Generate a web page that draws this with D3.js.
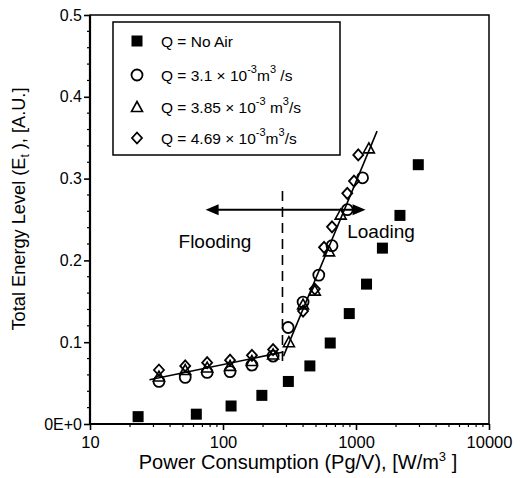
<!DOCTYPE html>
<html><head><meta charset="utf-8">
<script src="https://cdn.jsdelivr.net/npm/d3@7"></script>
<style>
body{margin:0;background:#fff;}
text{font-family:"Liberation Sans",Arial,Helvetica,sans-serif;fill:#000;}
</style></head>
<body><svg id="c" width="520" height="478"></svg>
<script>
// ---- data ----
const noAirX = [23, 63, 115, 196, 310, 450, 640, 890, 1200, 1580, 2140, 2940];
const noAirY = [0.009, 0.012, 0.022, 0.035, 0.052, 0.071, 0.099, 0.135, 0.171, 0.215, 0.255, 0.317];
const q31X = [33, 52, 76, 113, 165, 238, 309, 400, 525, 660, 860, 1120];
const q31Y = [0.052, 0.057, 0.063, 0.064, 0.072, 0.083, 0.118, 0.149, 0.182, 0.218, 0.262, 0.301];
const q385X = [33, 52, 76, 113, 165, 238, 313, 400, 490, 627, 767, 1250];
const q385Y = [0.058, 0.066, 0.069, 0.071, 0.077, 0.085, 0.100, 0.146, 0.163, 0.211, 0.256, 0.337];
const q469X = [33, 52, 76, 113, 165, 238, 400, 490, 575, 660, 860, 966, 1040];
const q469Y = [0.066, 0.071, 0.075, 0.078, 0.084, 0.091, 0.138, 0.165, 0.216, 0.241, 0.282, 0.297, 0.329];
const fit1X = [28, 285];
const fit1Y = [0.054, 0.088];
const fit2X = [285, 1440];
const fit2Y = [0.083, 0.358];
const dividerX = 280;
const dividerY = [0.077, 0.288];
const arrowX = [74, 1180];
const arrowY = 0.262;
const xTicks = [10, 100, 1000, 10000];
const yTicks = [0, 0.1, 0.2, 0.3, 0.4, 0.5];
const yTickLabels = ["0E+0", "0.1", "0.2", "0.3", "0.4", "0.5"];

const svg = d3.select("#c");
const L = 90, R = 489, T = 15, B = 424;
const x = d3.scaleLog().domain([10, 10000]).range([L, R]);
const y = d3.scaleLinear().domain([0, 0.5]).range([B, T]);

// frame
svg.append("rect").attr("x", L).attr("y", T).attr("width", R - L).attr("height", B - T)
  .attr("fill", "none").attr("stroke", "#000").attr("stroke-width", 1.5);
svg.append("line").attr("x1", L).attr("x2", L).attr("y1", T).attr("y2", B).attr("stroke", "#000").attr("stroke-width", 2.2);
svg.append("line").attr("x1", L).attr("x2", R).attr("y1", B).attr("y2", B).attr("stroke", "#000").attr("stroke-width", 2.2);

// x axis
const minorX = [];
for (let d = 10; d < 10000; d *= 10) for (let k = 2; k < 10; k++) minorX.push(d * k);
const xAx = svg.append("g").attr("transform", `translate(0,${B})`)
  .call(d3.axisBottom(x).tickValues(xTicks).tickFormat(d3.format("d")).tickSize(6).tickPadding(6));
xAx.select(".domain").remove();
xAx.selectAll("line").attr("stroke-width", 1.6);
xAx.selectAll("text").attr("font-size", 16.5);
svg.append("g").selectAll("line").data(minorX).join("line")
  .attr("x1", d => x(d)).attr("x2", d => x(d)).attr("y1", B).attr("y2", B + 3)
  .attr("stroke", "#000").attr("stroke-width", 1.2);

// y axis
const yAx = svg.append("g").attr("transform", `translate(${L},0)`)
  .call(d3.axisLeft(y).tickValues(yTicks).tickFormat((d, i) => yTickLabels[i]).tickSize(6).tickPadding(2));
yAx.select(".domain").remove();
yAx.selectAll("line").attr("stroke-width", 1.6);
yAx.selectAll("text").attr("font-size", 16);
const minorY = d3.range(0.02, 0.5, 0.02).filter(v => Math.abs(v * 10 - Math.round(v * 10)) > 1e-6);
svg.append("g").selectAll("line").data(minorY).join("line")
  .attr("x1", L - 3).attr("x2", L).attr("y1", d => y(d)).attr("y2", d => y(d))
  .attr("stroke", "#000").attr("stroke-width", 1.2);

// axis titles
const xt = svg.append("text").attr("x", 298).attr("y", 469).attr("text-anchor", "middle").attr("font-size", 20);
xt.append("tspan").text("Power Consumption (Pg/V), [W/m");
xt.append("tspan").text("3").attr("font-size", 13).attr("dy", -8);
xt.append("tspan").text(" ]").attr("dy", 8);
const yt = svg.append("text").attr("transform", "translate(25,209) rotate(-90)").attr("text-anchor", "middle")
  .attr("font-size", 18.5).attr("textLength", 243).attr("lengthAdjust", "spacingAndGlyphs");
yt.append("tspan").text("Total Energy Level (E");
yt.append("tspan").text("t").attr("font-size", 12).attr("dy", 4);
yt.append("tspan").text(" ), [A.U.]").attr("dy", -4);

// fit lines
const line = d3.line().x(d => x(d[0])).y(d => y(d[1]));
svg.append("path").attr("d", line(fit1X.map((v, i) => [v, fit1Y[i]]))).attr("fill", "none").attr("stroke", "#000").attr("stroke-width", 1.6);
svg.append("path").attr("d", line(fit2X.map((v, i) => [v, fit2Y[i]]))).attr("fill", "none").attr("stroke", "#000").attr("stroke-width", 1.6);
svg.append("line").attr("x1", x(dividerX)).attr("x2", x(dividerX)).attr("y1", y(dividerY[0])).attr("y2", y(dividerY[1]))
  .attr("stroke", "#000").attr("stroke-width", 1.6).attr("stroke-dasharray", "10,6");

// arrow
const ay = y(arrowY), ax0 = x(arrowX[0]), ax1 = x(arrowX[1]);
svg.append("line").attr("x1", ax0 + 10).attr("x2", ax1 - 10).attr("y1", ay).attr("y2", ay).attr("stroke", "#000").attr("stroke-width", 2);
svg.append("path").attr("d", `M${ax0},${ay} L${ax0 + 13},${ay - 5.5} L${ax0 + 13},${ay + 5.5} Z`).attr("fill", "#000");
svg.append("path").attr("d", `M${ax1},${ay} L${ax1 - 13},${ay - 5.5} L${ax1 - 13},${ay + 5.5} Z`).attr("fill", "#000");
svg.append("text").attr("x", 215).attr("y", 248).attr("text-anchor", "middle").attr("font-size", 19).text("Flooding");
svg.append("text").attr("x", 381).attr("y", 238).attr("text-anchor", "middle").attr("font-size", 19).text("Loading");

// markers
function drawSym(g, type, cx, cy) {
  if (type === "sq") g.append("rect").attr("x", cx - 5.5).attr("y", cy - 5.5).attr("width", 11).attr("height", 11).attr("fill", "#000");
  else if (type === "ci") g.append("circle").attr("cx", cx).attr("cy", cy).attr("r", 5.5).attr("fill", "none").attr("stroke", "#000").attr("stroke-width", 1.8);
  else if (type === "tr") g.append("path").attr("d", `M${cx},${cy - 5.5} L${cx + 5.5},${cy + 4.5} L${cx - 5.5},${cy + 4.5} Z`).attr("fill", "none").attr("stroke", "#000").attr("stroke-width", 1.6);
  else if (type === "di") g.append("path").attr("d", `M${cx},${cy - 5.5} L${cx + 5},${cy} L${cx},${cy + 5.5} L${cx - 5},${cy} Z`).attr("fill", "none").attr("stroke", "#000").attr("stroke-width", 1.8);
}
const series = [
  {t: "sq", xs: noAirX, ys: noAirY},
  {t: "ci", xs: q31X, ys: q31Y},
  {t: "tr", xs: q385X, ys: q385Y},
  {t: "di", xs: q469X, ys: q469Y}
];
const mg = svg.append("g");
series.forEach(s => s.xs.forEach((v, i) => drawSym(mg, s.t, x(v), y(s.ys[i]))));

// legend
const lg = svg.append("g");
lg.append("rect").attr("x", 113).attr("y", 22).attr("width", 227).attr("height", 133).attr("fill", "#fff").attr("stroke", "#000").attr("stroke-width", 1.5);
const rows = [41, 75, 107, 138];
const types = ["sq", "ci", "tr", "di"];
rows.forEach((ry, i) => {
  drawSym(lg, types[i], 137, ry);
  const t = lg.append("text").attr("x", 161).attr("y", ry + 6).attr("font-size", 15.5);
  if (i === 0) { t.text("Q = No Air"); return; }
  const num = ["", "3.1", "3.85", "4.69"][i];
  t.append("tspan").text(`Q = ${num} \u00d7 10`);
  t.append("tspan").text("-3").attr("font-size", 11).attr("dy", -8);
  t.append("tspan").text(i === 2 ? " m" : "m").attr("dy", 8);
  t.append("tspan").text("3").attr("font-size", 11).attr("dy", -8);
  t.append("tspan").text(i === 1 ? " /s" : "/s").attr("dy", 8);
});
</script></body></html>
